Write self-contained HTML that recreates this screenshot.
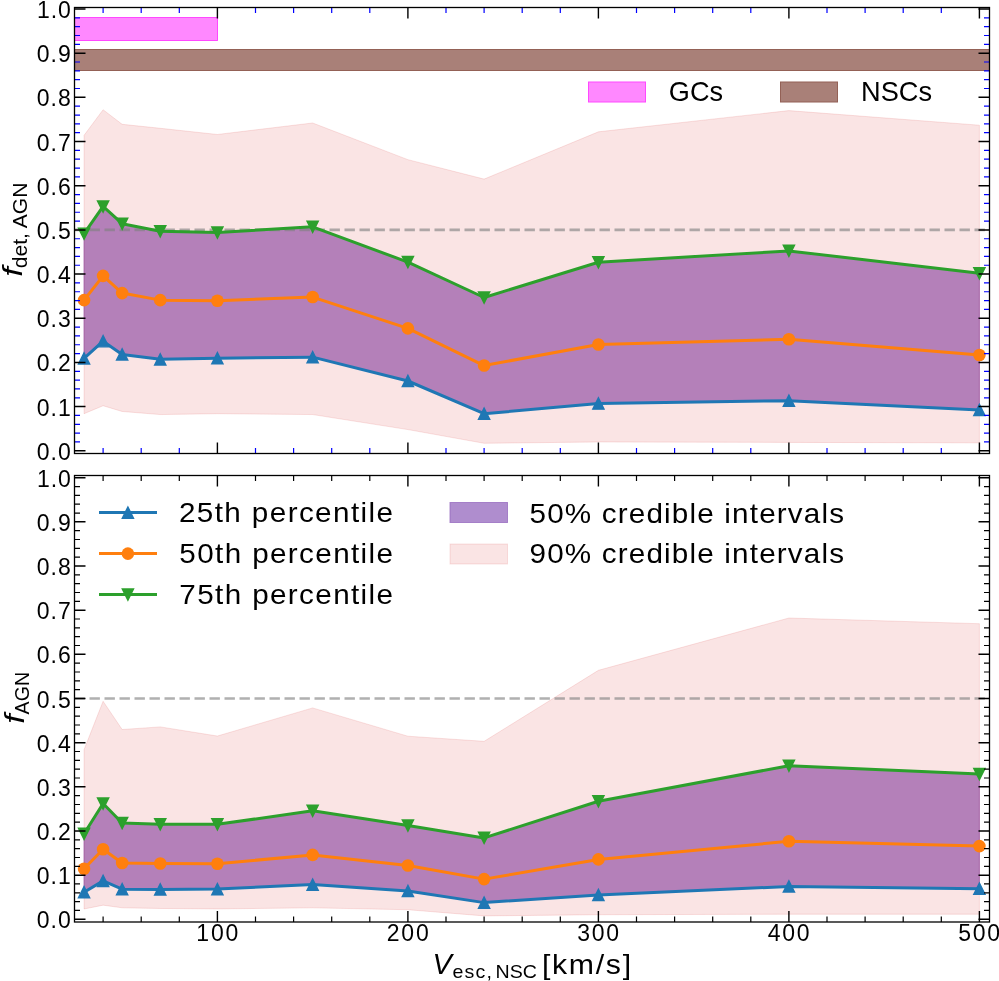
<!DOCTYPE html><html><head><meta charset="utf-8"><title>chart</title><style>html,body{margin:0;padding:0;background:#fff;width:999px;height:981px;overflow:hidden}svg{display:block;will-change:transform}</style></head><body><svg width="999" height="981" viewBox="0 0 999 981">
<rect width="999" height="981" fill="#fff"/>
<rect x="74.5" y="17" width="143.5" height="24" fill="#ff88ff"/>
<path d="M74.5 17.5H217.5V40.5H74.5" fill="none" stroke="#ff48ff" stroke-width="1"/>
<rect x="74.5" y="49" width="915" height="22" fill="#a98078"/>
<path d="M74.5 49.5H989.5M74.5 70.5H989.5" fill="none" stroke="#936156" stroke-width="1"/>
<clipPath id="c7"><rect x="74.5" y="7.5" width="915.0" height="446.0"/></clipPath>
<g clip-path="url(#c7)">
<polygon points="84.05,233.7 103.1,206.48 122.15,223.71 160.25,231.23 217.4,232.55 312.65,226.81 407.9,262.15 484.1,297.5 598.4,262.28 788.9,250.89 979.4,273.28 979.4,410.02 788.9,400.7 598.4,403.53 484.1,413.69 407.9,381 312.65,357.14 217.4,358.2 160.25,359.35 122.15,354.49 103.1,341.23 84.05,358.46" fill="#9467bd" fill-opacity="0.75" stroke="#9467bd" stroke-opacity="0.75" stroke-width="1.0" stroke-linejoin="round"/>
<polygon points="84.05,135.35 103.1,109.73 122.15,124.31 160.25,128.29 217.4,134.47 312.65,122.98 407.9,159.65 484.1,179.09 598.4,131.82 788.9,110.61 979.4,125.19 979.4,442.85 788.9,442.41 598.4,441.96 484.1,443.29 407.9,429.59 312.65,414.57 217.4,413.69 160.25,414.57 122.15,411.48 103.1,405.74 84.05,413.69" fill="#d62728" fill-opacity="0.125" stroke="#d62728" stroke-opacity="0.125" stroke-width="1.0" stroke-linejoin="round"/>
<line x1="74.5" y1="229.9" x2="989.5" y2="229.9" stroke="#808080" stroke-opacity="0.62" stroke-width="2.6" stroke-dasharray="10.4 4.6"/>
<polyline points="84.05,358.46 103.1,341.23 122.15,354.49 160.25,359.35 217.4,358.2 312.65,357.14 407.9,381 484.1,413.69 598.4,403.53 788.9,400.7 979.4,410.02" fill="none" stroke="#1f77b4" stroke-width="3.0" stroke-linejoin="round" stroke-linecap="butt"/>
<polygon points="84.05,352.86 78.45,364.06 89.65,364.06" fill="#1f77b4" stroke="#1f77b4" stroke-width="1.4" stroke-linejoin="miter" stroke-miterlimit="10"/>
<polygon points="103.1,335.63 97.5,346.83 108.7,346.83" fill="#1f77b4" stroke="#1f77b4" stroke-width="1.4" stroke-linejoin="miter" stroke-miterlimit="10"/>
<polygon points="122.15,348.89 116.55,360.09 127.75,360.09" fill="#1f77b4" stroke="#1f77b4" stroke-width="1.4" stroke-linejoin="miter" stroke-miterlimit="10"/>
<polygon points="160.25,353.75 154.65,364.95 165.85,364.95" fill="#1f77b4" stroke="#1f77b4" stroke-width="1.4" stroke-linejoin="miter" stroke-miterlimit="10"/>
<polygon points="217.4,352.6 211.8,363.8 223,363.8" fill="#1f77b4" stroke="#1f77b4" stroke-width="1.4" stroke-linejoin="miter" stroke-miterlimit="10"/>
<polygon points="312.65,351.54 307.05,362.74 318.25,362.74" fill="#1f77b4" stroke="#1f77b4" stroke-width="1.4" stroke-linejoin="miter" stroke-miterlimit="10"/>
<polygon points="407.9,375.4 402.3,386.6 413.5,386.6" fill="#1f77b4" stroke="#1f77b4" stroke-width="1.4" stroke-linejoin="miter" stroke-miterlimit="10"/>
<polygon points="484.1,408.09 478.5,419.29 489.7,419.29" fill="#1f77b4" stroke="#1f77b4" stroke-width="1.4" stroke-linejoin="miter" stroke-miterlimit="10"/>
<polygon points="598.4,397.93 592.8,409.13 604,409.13" fill="#1f77b4" stroke="#1f77b4" stroke-width="1.4" stroke-linejoin="miter" stroke-miterlimit="10"/>
<polygon points="788.9,395.1 783.3,406.3 794.5,406.3" fill="#1f77b4" stroke="#1f77b4" stroke-width="1.4" stroke-linejoin="miter" stroke-miterlimit="10"/>
<polygon points="979.4,404.42 973.8,415.62 985,415.62" fill="#1f77b4" stroke="#1f77b4" stroke-width="1.4" stroke-linejoin="miter" stroke-miterlimit="10"/>
<polyline points="84.05,300.15 103.1,275.85 122.15,293.08 160.25,300.15 217.4,300.81 312.65,297.05 407.9,328.42 484.1,365.53 598.4,344.5 788.9,339.2 979.4,355.02" fill="none" stroke="#ff7f0e" stroke-width="3.0" stroke-linejoin="round" stroke-linecap="butt"/>
<circle cx="84.05" cy="300.15" r="6.3" fill="#ff7f0e"/>
<circle cx="103.1" cy="275.85" r="6.3" fill="#ff7f0e"/>
<circle cx="122.15" cy="293.08" r="6.3" fill="#ff7f0e"/>
<circle cx="160.25" cy="300.15" r="6.3" fill="#ff7f0e"/>
<circle cx="217.4" cy="300.81" r="6.3" fill="#ff7f0e"/>
<circle cx="312.65" cy="297.05" r="6.3" fill="#ff7f0e"/>
<circle cx="407.9" cy="328.42" r="6.3" fill="#ff7f0e"/>
<circle cx="484.1" cy="365.53" r="6.3" fill="#ff7f0e"/>
<circle cx="598.4" cy="344.5" r="6.3" fill="#ff7f0e"/>
<circle cx="788.9" cy="339.2" r="6.3" fill="#ff7f0e"/>
<circle cx="979.4" cy="355.02" r="6.3" fill="#ff7f0e"/>
<polyline points="84.05,233.7 103.1,206.48 122.15,223.71 160.25,231.23 217.4,232.55 312.65,226.81 407.9,262.15 484.1,297.5 598.4,262.28 788.9,250.89 979.4,273.28" fill="none" stroke="#2ca02c" stroke-width="3.0" stroke-linejoin="round" stroke-linecap="butt"/>
<polygon points="84.05,239.3 78.45,228.1 89.65,228.1" fill="#2ca02c" stroke="#2ca02c" stroke-width="1.4" stroke-linejoin="miter" stroke-miterlimit="10"/>
<polygon points="103.1,212.08 97.5,200.88 108.7,200.88" fill="#2ca02c" stroke="#2ca02c" stroke-width="1.4" stroke-linejoin="miter" stroke-miterlimit="10"/>
<polygon points="122.15,229.31 116.55,218.11 127.75,218.11" fill="#2ca02c" stroke="#2ca02c" stroke-width="1.4" stroke-linejoin="miter" stroke-miterlimit="10"/>
<polygon points="160.25,236.83 154.65,225.63 165.85,225.63" fill="#2ca02c" stroke="#2ca02c" stroke-width="1.4" stroke-linejoin="miter" stroke-miterlimit="10"/>
<polygon points="217.4,238.15 211.8,226.95 223,226.95" fill="#2ca02c" stroke="#2ca02c" stroke-width="1.4" stroke-linejoin="miter" stroke-miterlimit="10"/>
<polygon points="312.65,232.41 307.05,221.21 318.25,221.21" fill="#2ca02c" stroke="#2ca02c" stroke-width="1.4" stroke-linejoin="miter" stroke-miterlimit="10"/>
<polygon points="407.9,267.75 402.3,256.55 413.5,256.55" fill="#2ca02c" stroke="#2ca02c" stroke-width="1.4" stroke-linejoin="miter" stroke-miterlimit="10"/>
<polygon points="484.1,303.1 478.5,291.9 489.7,291.9" fill="#2ca02c" stroke="#2ca02c" stroke-width="1.4" stroke-linejoin="miter" stroke-miterlimit="10"/>
<polygon points="598.4,267.88 592.8,256.68 604,256.68" fill="#2ca02c" stroke="#2ca02c" stroke-width="1.4" stroke-linejoin="miter" stroke-miterlimit="10"/>
<polygon points="788.9,256.49 783.3,245.29 794.5,245.29" fill="#2ca02c" stroke="#2ca02c" stroke-width="1.4" stroke-linejoin="miter" stroke-miterlimit="10"/>
<polygon points="979.4,278.88 973.8,267.68 985,267.68" fill="#2ca02c" stroke="#2ca02c" stroke-width="1.4" stroke-linejoin="miter" stroke-miterlimit="10"/>
</g>
<path d="M74.5 450.8h11M989.5 450.8h-11" stroke="#000" stroke-width="1.5"/>
<path d="M74.5 441.96h5.5M989.5 441.96h-5.5" stroke="#0000ff" stroke-width="1.2"/>
<path d="M74.5 433.13h5.5M989.5 433.13h-5.5" stroke="#0000ff" stroke-width="1.2"/>
<path d="M74.5 424.29h5.5M989.5 424.29h-5.5" stroke="#0000ff" stroke-width="1.2"/>
<path d="M74.5 415.46h5.5M989.5 415.46h-5.5" stroke="#0000ff" stroke-width="1.2"/>
<path d="M74.5 406.62h11M989.5 406.62h-11" stroke="#000" stroke-width="1.5"/>
<path d="M74.5 397.78h5.5M989.5 397.78h-5.5" stroke="#0000ff" stroke-width="1.2"/>
<path d="M74.5 388.95h5.5M989.5 388.95h-5.5" stroke="#0000ff" stroke-width="1.2"/>
<path d="M74.5 380.11h5.5M989.5 380.11h-5.5" stroke="#0000ff" stroke-width="1.2"/>
<path d="M74.5 371.28h5.5M989.5 371.28h-5.5" stroke="#0000ff" stroke-width="1.2"/>
<path d="M74.5 362.44h11M989.5 362.44h-11" stroke="#000" stroke-width="1.5"/>
<path d="M74.5 353.6h5.5M989.5 353.6h-5.5" stroke="#0000ff" stroke-width="1.2"/>
<path d="M74.5 344.77h5.5M989.5 344.77h-5.5" stroke="#0000ff" stroke-width="1.2"/>
<path d="M74.5 335.93h5.5M989.5 335.93h-5.5" stroke="#0000ff" stroke-width="1.2"/>
<path d="M74.5 327.1h5.5M989.5 327.1h-5.5" stroke="#0000ff" stroke-width="1.2"/>
<path d="M74.5 318.26h11M989.5 318.26h-11" stroke="#000" stroke-width="1.5"/>
<path d="M74.5 309.42h5.5M989.5 309.42h-5.5" stroke="#0000ff" stroke-width="1.2"/>
<path d="M74.5 300.59h5.5M989.5 300.59h-5.5" stroke="#0000ff" stroke-width="1.2"/>
<path d="M74.5 291.75h5.5M989.5 291.75h-5.5" stroke="#0000ff" stroke-width="1.2"/>
<path d="M74.5 282.92h5.5M989.5 282.92h-5.5" stroke="#0000ff" stroke-width="1.2"/>
<path d="M74.5 274.08h11M989.5 274.08h-11" stroke="#000" stroke-width="1.5"/>
<path d="M74.5 265.24h5.5M989.5 265.24h-5.5" stroke="#0000ff" stroke-width="1.2"/>
<path d="M74.5 256.41h5.5M989.5 256.41h-5.5" stroke="#0000ff" stroke-width="1.2"/>
<path d="M74.5 247.57h5.5M989.5 247.57h-5.5" stroke="#0000ff" stroke-width="1.2"/>
<path d="M74.5 238.74h5.5M989.5 238.74h-5.5" stroke="#0000ff" stroke-width="1.2"/>
<path d="M74.5 229.9h11M989.5 229.9h-11" stroke="#000" stroke-width="1.5"/>
<path d="M74.5 221.06h5.5M989.5 221.06h-5.5" stroke="#0000ff" stroke-width="1.2"/>
<path d="M74.5 212.23h5.5M989.5 212.23h-5.5" stroke="#0000ff" stroke-width="1.2"/>
<path d="M74.5 203.39h5.5M989.5 203.39h-5.5" stroke="#0000ff" stroke-width="1.2"/>
<path d="M74.5 194.56h5.5M989.5 194.56h-5.5" stroke="#0000ff" stroke-width="1.2"/>
<path d="M74.5 185.72h11M989.5 185.72h-11" stroke="#000" stroke-width="1.5"/>
<path d="M74.5 176.88h5.5M989.5 176.88h-5.5" stroke="#0000ff" stroke-width="1.2"/>
<path d="M74.5 168.05h5.5M989.5 168.05h-5.5" stroke="#0000ff" stroke-width="1.2"/>
<path d="M74.5 159.21h5.5M989.5 159.21h-5.5" stroke="#0000ff" stroke-width="1.2"/>
<path d="M74.5 150.38h5.5M989.5 150.38h-5.5" stroke="#0000ff" stroke-width="1.2"/>
<path d="M74.5 141.54h11M989.5 141.54h-11" stroke="#000" stroke-width="1.5"/>
<path d="M74.5 132.7h5.5M989.5 132.7h-5.5" stroke="#0000ff" stroke-width="1.2"/>
<path d="M74.5 123.87h5.5M989.5 123.87h-5.5" stroke="#0000ff" stroke-width="1.2"/>
<path d="M74.5 115.03h5.5M989.5 115.03h-5.5" stroke="#0000ff" stroke-width="1.2"/>
<path d="M74.5 106.2h5.5M989.5 106.2h-5.5" stroke="#0000ff" stroke-width="1.2"/>
<path d="M74.5 97.36h11M989.5 97.36h-11" stroke="#000" stroke-width="1.5"/>
<path d="M74.5 88.52h5.5M989.5 88.52h-5.5" stroke="#0000ff" stroke-width="1.2"/>
<path d="M74.5 79.69h5.5M989.5 79.69h-5.5" stroke="#0000ff" stroke-width="1.2"/>
<path d="M74.5 70.85h5.5M989.5 70.85h-5.5" stroke="#0000ff" stroke-width="1.2"/>
<path d="M74.5 62.02h5.5M989.5 62.02h-5.5" stroke="#0000ff" stroke-width="1.2"/>
<path d="M74.5 53.18h11M989.5 53.18h-11" stroke="#000" stroke-width="1.5"/>
<path d="M74.5 44.34h5.5M989.5 44.34h-5.5" stroke="#0000ff" stroke-width="1.2"/>
<path d="M74.5 35.51h5.5M989.5 35.51h-5.5" stroke="#0000ff" stroke-width="1.2"/>
<path d="M74.5 26.67h5.5M989.5 26.67h-5.5" stroke="#0000ff" stroke-width="1.2"/>
<path d="M74.5 17.84h5.5M989.5 17.84h-5.5" stroke="#0000ff" stroke-width="1.2"/>
<path d="M74.5 9h11M989.5 9h-11" stroke="#000" stroke-width="1.5"/>
<path d="M103.1 7.5v5.5M103.1 453.5v-5.5" stroke="#0000ff" stroke-width="1.2"/>
<path d="M141.2 7.5v5.5M141.2 453.5v-5.5" stroke="#0000ff" stroke-width="1.2"/>
<path d="M179.3 7.5v5.5M179.3 453.5v-5.5" stroke="#0000ff" stroke-width="1.2"/>
<path d="M217.4 7.5v11M217.4 453.5v-11" stroke="#000" stroke-width="1.4"/>
<path d="M255.5 7.5v5.5M255.5 453.5v-5.5" stroke="#0000ff" stroke-width="1.2"/>
<path d="M293.6 7.5v5.5M293.6 453.5v-5.5" stroke="#0000ff" stroke-width="1.2"/>
<path d="M331.7 7.5v5.5M331.7 453.5v-5.5" stroke="#0000ff" stroke-width="1.2"/>
<path d="M369.8 7.5v5.5M369.8 453.5v-5.5" stroke="#0000ff" stroke-width="1.2"/>
<path d="M407.9 7.5v11M407.9 453.5v-11" stroke="#000" stroke-width="1.4"/>
<path d="M446 7.5v5.5M446 453.5v-5.5" stroke="#0000ff" stroke-width="1.2"/>
<path d="M484.1 7.5v5.5M484.1 453.5v-5.5" stroke="#0000ff" stroke-width="1.2"/>
<path d="M522.2 7.5v5.5M522.2 453.5v-5.5" stroke="#0000ff" stroke-width="1.2"/>
<path d="M560.3 7.5v5.5M560.3 453.5v-5.5" stroke="#0000ff" stroke-width="1.2"/>
<path d="M598.4 7.5v11M598.4 453.5v-11" stroke="#000" stroke-width="1.4"/>
<path d="M636.5 7.5v5.5M636.5 453.5v-5.5" stroke="#0000ff" stroke-width="1.2"/>
<path d="M674.6 7.5v5.5M674.6 453.5v-5.5" stroke="#0000ff" stroke-width="1.2"/>
<path d="M712.7 7.5v5.5M712.7 453.5v-5.5" stroke="#0000ff" stroke-width="1.2"/>
<path d="M750.8 7.5v5.5M750.8 453.5v-5.5" stroke="#0000ff" stroke-width="1.2"/>
<path d="M788.9 7.5v11M788.9 453.5v-11" stroke="#000" stroke-width="1.4"/>
<path d="M827 7.5v5.5M827 453.5v-5.5" stroke="#0000ff" stroke-width="1.2"/>
<path d="M865.1 7.5v5.5M865.1 453.5v-5.5" stroke="#0000ff" stroke-width="1.2"/>
<path d="M903.2 7.5v5.5M903.2 453.5v-5.5" stroke="#0000ff" stroke-width="1.2"/>
<path d="M941.3 7.5v5.5M941.3 453.5v-5.5" stroke="#0000ff" stroke-width="1.2"/>
<path d="M979.4 7.5v11M979.4 453.5v-11" stroke="#000" stroke-width="1.4"/>
<rect x="74.5" y="7.5" width="915.0" height="446.0" fill="none" stroke="#000" stroke-width="1.3"/>
<text x="36.8" y="459.8" font-size="23.0" textLength="33.98" lengthAdjust="spacing" style="font-family:'Liberation Sans',sans-serif">0.0</text>
<text x="36.8" y="415.62" font-size="23.0" textLength="33.98" lengthAdjust="spacing" style="font-family:'Liberation Sans',sans-serif">0.1</text>
<text x="36.8" y="371.44" font-size="23.0" textLength="33.98" lengthAdjust="spacing" style="font-family:'Liberation Sans',sans-serif">0.2</text>
<text x="36.8" y="327.26" font-size="23.0" textLength="33.98" lengthAdjust="spacing" style="font-family:'Liberation Sans',sans-serif">0.3</text>
<text x="36.8" y="283.08" font-size="23.0" textLength="33.98" lengthAdjust="spacing" style="font-family:'Liberation Sans',sans-serif">0.4</text>
<text x="36.8" y="238.9" font-size="23.0" textLength="33.98" lengthAdjust="spacing" style="font-family:'Liberation Sans',sans-serif">0.5</text>
<text x="36.8" y="194.72" font-size="23.0" textLength="33.98" lengthAdjust="spacing" style="font-family:'Liberation Sans',sans-serif">0.6</text>
<text x="36.8" y="150.54" font-size="23.0" textLength="33.98" lengthAdjust="spacing" style="font-family:'Liberation Sans',sans-serif">0.7</text>
<text x="36.8" y="106.36" font-size="23.0" textLength="33.98" lengthAdjust="spacing" style="font-family:'Liberation Sans',sans-serif">0.8</text>
<text x="36.8" y="62.18" font-size="23.0" textLength="33.98" lengthAdjust="spacing" style="font-family:'Liberation Sans',sans-serif">0.9</text>
<text x="37.1" y="18" font-size="23.0" textLength="33.78" lengthAdjust="spacing" style="font-family:'Liberation Sans',sans-serif">1.0</text>
<clipPath id="c475"><rect x="74.5" y="475.5" width="915.0" height="446.5"/></clipPath>
<g clip-path="url(#c475)">
<polygon points="84.05,833.81 103.1,803.51 122.15,822.99 160.25,824.36 217.4,824.36 312.65,810.8 407.9,825.5 484.1,837.91 598.4,801.22 788.9,765.71 979.4,774.01 979.4,888.7 788.9,886.49 598.4,894.92 484.1,902.61 407.9,891.04 312.65,884.59 217.4,889.09 160.25,889.49 122.15,889.18 103.1,880.88 84.05,892.19" fill="#9467bd" fill-opacity="0.75" stroke="#9467bd" stroke-opacity="0.75" stroke-width="1.0" stroke-linejoin="round"/>
<polygon points="84.05,749.73 103.1,701.28 122.15,729.5 160.25,726.89 217.4,736.04 312.65,707.91 407.9,736.21 484.1,741.34 598.4,670.33 788.9,618 979.4,623.69 979.4,914.22 788.9,914.22 598.4,914.71 484.1,915.9 407.9,909.72 312.65,907.82 217.4,908.92 160.25,908.48 122.15,907.82 103.1,905.17 84.05,909.01" fill="#d62728" fill-opacity="0.125" stroke="#d62728" stroke-opacity="0.125" stroke-width="1.0" stroke-linejoin="round"/>
<line x1="74.5" y1="698.5" x2="989.5" y2="698.5" stroke="#808080" stroke-opacity="0.62" stroke-width="2.6" stroke-dasharray="10.4 4.6"/>
<polyline points="84.05,892.19 103.1,880.88 122.15,889.18 160.25,889.49 217.4,889.09 312.65,884.59 407.9,891.04 484.1,902.61 598.4,894.92 788.9,886.49 979.4,888.7" fill="none" stroke="#1f77b4" stroke-width="3.0" stroke-linejoin="round" stroke-linecap="butt"/>
<polygon points="84.05,886.59 78.45,897.79 89.65,897.79" fill="#1f77b4" stroke="#1f77b4" stroke-width="1.4" stroke-linejoin="miter" stroke-miterlimit="10"/>
<polygon points="103.1,875.28 97.5,886.48 108.7,886.48" fill="#1f77b4" stroke="#1f77b4" stroke-width="1.4" stroke-linejoin="miter" stroke-miterlimit="10"/>
<polygon points="122.15,883.58 116.55,894.78 127.75,894.78" fill="#1f77b4" stroke="#1f77b4" stroke-width="1.4" stroke-linejoin="miter" stroke-miterlimit="10"/>
<polygon points="160.25,883.89 154.65,895.09 165.85,895.09" fill="#1f77b4" stroke="#1f77b4" stroke-width="1.4" stroke-linejoin="miter" stroke-miterlimit="10"/>
<polygon points="217.4,883.49 211.8,894.69 223,894.69" fill="#1f77b4" stroke="#1f77b4" stroke-width="1.4" stroke-linejoin="miter" stroke-miterlimit="10"/>
<polygon points="312.65,878.99 307.05,890.19 318.25,890.19" fill="#1f77b4" stroke="#1f77b4" stroke-width="1.4" stroke-linejoin="miter" stroke-miterlimit="10"/>
<polygon points="407.9,885.44 402.3,896.64 413.5,896.64" fill="#1f77b4" stroke="#1f77b4" stroke-width="1.4" stroke-linejoin="miter" stroke-miterlimit="10"/>
<polygon points="484.1,897.01 478.5,908.21 489.7,908.21" fill="#1f77b4" stroke="#1f77b4" stroke-width="1.4" stroke-linejoin="miter" stroke-miterlimit="10"/>
<polygon points="598.4,889.32 592.8,900.52 604,900.52" fill="#1f77b4" stroke="#1f77b4" stroke-width="1.4" stroke-linejoin="miter" stroke-miterlimit="10"/>
<polygon points="788.9,880.89 783.3,892.09 794.5,892.09" fill="#1f77b4" stroke="#1f77b4" stroke-width="1.4" stroke-linejoin="miter" stroke-miterlimit="10"/>
<polygon points="979.4,883.1 973.8,894.3 985,894.3" fill="#1f77b4" stroke="#1f77b4" stroke-width="1.4" stroke-linejoin="miter" stroke-miterlimit="10"/>
<polyline points="84.05,868.69 103.1,849.22 122.15,863 160.25,863.48 217.4,863.79 312.65,854.91 407.9,865.51 484.1,879.11 598.4,859.42 788.9,841.31 979.4,846.08" fill="none" stroke="#ff7f0e" stroke-width="3.0" stroke-linejoin="round" stroke-linecap="butt"/>
<circle cx="84.05" cy="868.69" r="6.3" fill="#ff7f0e"/>
<circle cx="103.1" cy="849.22" r="6.3" fill="#ff7f0e"/>
<circle cx="122.15" cy="863" r="6.3" fill="#ff7f0e"/>
<circle cx="160.25" cy="863.48" r="6.3" fill="#ff7f0e"/>
<circle cx="217.4" cy="863.79" r="6.3" fill="#ff7f0e"/>
<circle cx="312.65" cy="854.91" r="6.3" fill="#ff7f0e"/>
<circle cx="407.9" cy="865.51" r="6.3" fill="#ff7f0e"/>
<circle cx="484.1" cy="879.11" r="6.3" fill="#ff7f0e"/>
<circle cx="598.4" cy="859.42" r="6.3" fill="#ff7f0e"/>
<circle cx="788.9" cy="841.31" r="6.3" fill="#ff7f0e"/>
<circle cx="979.4" cy="846.08" r="6.3" fill="#ff7f0e"/>
<polyline points="84.05,833.81 103.1,803.51 122.15,822.99 160.25,824.36 217.4,824.36 312.65,810.8 407.9,825.5 484.1,837.91 598.4,801.22 788.9,765.71 979.4,774.01" fill="none" stroke="#2ca02c" stroke-width="3.0" stroke-linejoin="round" stroke-linecap="butt"/>
<polygon points="84.05,839.41 78.45,828.21 89.65,828.21" fill="#2ca02c" stroke="#2ca02c" stroke-width="1.4" stroke-linejoin="miter" stroke-miterlimit="10"/>
<polygon points="103.1,809.11 97.5,797.91 108.7,797.91" fill="#2ca02c" stroke="#2ca02c" stroke-width="1.4" stroke-linejoin="miter" stroke-miterlimit="10"/>
<polygon points="122.15,828.59 116.55,817.39 127.75,817.39" fill="#2ca02c" stroke="#2ca02c" stroke-width="1.4" stroke-linejoin="miter" stroke-miterlimit="10"/>
<polygon points="160.25,829.96 154.65,818.76 165.85,818.76" fill="#2ca02c" stroke="#2ca02c" stroke-width="1.4" stroke-linejoin="miter" stroke-miterlimit="10"/>
<polygon points="217.4,829.96 211.8,818.76 223,818.76" fill="#2ca02c" stroke="#2ca02c" stroke-width="1.4" stroke-linejoin="miter" stroke-miterlimit="10"/>
<polygon points="312.65,816.4 307.05,805.2 318.25,805.2" fill="#2ca02c" stroke="#2ca02c" stroke-width="1.4" stroke-linejoin="miter" stroke-miterlimit="10"/>
<polygon points="407.9,831.1 402.3,819.9 413.5,819.9" fill="#2ca02c" stroke="#2ca02c" stroke-width="1.4" stroke-linejoin="miter" stroke-miterlimit="10"/>
<polygon points="484.1,843.51 478.5,832.31 489.7,832.31" fill="#2ca02c" stroke="#2ca02c" stroke-width="1.4" stroke-linejoin="miter" stroke-miterlimit="10"/>
<polygon points="598.4,806.82 592.8,795.62 604,795.62" fill="#2ca02c" stroke="#2ca02c" stroke-width="1.4" stroke-linejoin="miter" stroke-miterlimit="10"/>
<polygon points="788.9,771.31 783.3,760.11 794.5,760.11" fill="#2ca02c" stroke="#2ca02c" stroke-width="1.4" stroke-linejoin="miter" stroke-miterlimit="10"/>
<polygon points="979.4,779.61 973.8,768.41 985,768.41" fill="#2ca02c" stroke="#2ca02c" stroke-width="1.4" stroke-linejoin="miter" stroke-miterlimit="10"/>
</g>
<path d="M74.5 919.3h11M989.5 919.3h-11" stroke="#000" stroke-width="1.5"/>
<path d="M74.5 910.47h5.5M989.5 910.47h-5.5" stroke="#000000" stroke-width="1.2"/>
<path d="M74.5 901.64h5.5M989.5 901.64h-5.5" stroke="#000000" stroke-width="1.2"/>
<path d="M74.5 892.8h5.5M989.5 892.8h-5.5" stroke="#000000" stroke-width="1.2"/>
<path d="M74.5 883.97h5.5M989.5 883.97h-5.5" stroke="#000000" stroke-width="1.2"/>
<path d="M74.5 875.14h11M989.5 875.14h-11" stroke="#000" stroke-width="1.5"/>
<path d="M74.5 866.31h5.5M989.5 866.31h-5.5" stroke="#000000" stroke-width="1.2"/>
<path d="M74.5 857.48h5.5M989.5 857.48h-5.5" stroke="#000000" stroke-width="1.2"/>
<path d="M74.5 848.64h5.5M989.5 848.64h-5.5" stroke="#000000" stroke-width="1.2"/>
<path d="M74.5 839.81h5.5M989.5 839.81h-5.5" stroke="#000000" stroke-width="1.2"/>
<path d="M74.5 830.98h11M989.5 830.98h-11" stroke="#000" stroke-width="1.5"/>
<path d="M74.5 822.15h5.5M989.5 822.15h-5.5" stroke="#000000" stroke-width="1.2"/>
<path d="M74.5 813.32h5.5M989.5 813.32h-5.5" stroke="#000000" stroke-width="1.2"/>
<path d="M74.5 804.48h5.5M989.5 804.48h-5.5" stroke="#000000" stroke-width="1.2"/>
<path d="M74.5 795.65h5.5M989.5 795.65h-5.5" stroke="#000000" stroke-width="1.2"/>
<path d="M74.5 786.82h11M989.5 786.82h-11" stroke="#000" stroke-width="1.5"/>
<path d="M74.5 777.99h5.5M989.5 777.99h-5.5" stroke="#000000" stroke-width="1.2"/>
<path d="M74.5 769.16h5.5M989.5 769.16h-5.5" stroke="#000000" stroke-width="1.2"/>
<path d="M74.5 760.32h5.5M989.5 760.32h-5.5" stroke="#000000" stroke-width="1.2"/>
<path d="M74.5 751.49h5.5M989.5 751.49h-5.5" stroke="#000000" stroke-width="1.2"/>
<path d="M74.5 742.66h11M989.5 742.66h-11" stroke="#000" stroke-width="1.5"/>
<path d="M74.5 733.83h5.5M989.5 733.83h-5.5" stroke="#000000" stroke-width="1.2"/>
<path d="M74.5 725h5.5M989.5 725h-5.5" stroke="#000000" stroke-width="1.2"/>
<path d="M74.5 716.16h5.5M989.5 716.16h-5.5" stroke="#000000" stroke-width="1.2"/>
<path d="M74.5 707.33h5.5M989.5 707.33h-5.5" stroke="#000000" stroke-width="1.2"/>
<path d="M74.5 698.5h11M989.5 698.5h-11" stroke="#000" stroke-width="1.5"/>
<path d="M74.5 689.67h5.5M989.5 689.67h-5.5" stroke="#000000" stroke-width="1.2"/>
<path d="M74.5 680.84h5.5M989.5 680.84h-5.5" stroke="#000000" stroke-width="1.2"/>
<path d="M74.5 672h5.5M989.5 672h-5.5" stroke="#000000" stroke-width="1.2"/>
<path d="M74.5 663.17h5.5M989.5 663.17h-5.5" stroke="#000000" stroke-width="1.2"/>
<path d="M74.5 654.34h11M989.5 654.34h-11" stroke="#000" stroke-width="1.5"/>
<path d="M74.5 645.51h5.5M989.5 645.51h-5.5" stroke="#000000" stroke-width="1.2"/>
<path d="M74.5 636.68h5.5M989.5 636.68h-5.5" stroke="#000000" stroke-width="1.2"/>
<path d="M74.5 627.84h5.5M989.5 627.84h-5.5" stroke="#000000" stroke-width="1.2"/>
<path d="M74.5 619.01h5.5M989.5 619.01h-5.5" stroke="#000000" stroke-width="1.2"/>
<path d="M74.5 610.18h11M989.5 610.18h-11" stroke="#000" stroke-width="1.5"/>
<path d="M74.5 601.35h5.5M989.5 601.35h-5.5" stroke="#000000" stroke-width="1.2"/>
<path d="M74.5 592.52h5.5M989.5 592.52h-5.5" stroke="#000000" stroke-width="1.2"/>
<path d="M74.5 583.68h5.5M989.5 583.68h-5.5" stroke="#000000" stroke-width="1.2"/>
<path d="M74.5 574.85h5.5M989.5 574.85h-5.5" stroke="#000000" stroke-width="1.2"/>
<path d="M74.5 566.02h11M989.5 566.02h-11" stroke="#000" stroke-width="1.5"/>
<path d="M74.5 557.19h5.5M989.5 557.19h-5.5" stroke="#000000" stroke-width="1.2"/>
<path d="M74.5 548.36h5.5M989.5 548.36h-5.5" stroke="#000000" stroke-width="1.2"/>
<path d="M74.5 539.52h5.5M989.5 539.52h-5.5" stroke="#000000" stroke-width="1.2"/>
<path d="M74.5 530.69h5.5M989.5 530.69h-5.5" stroke="#000000" stroke-width="1.2"/>
<path d="M74.5 521.86h11M989.5 521.86h-11" stroke="#000" stroke-width="1.5"/>
<path d="M74.5 513.03h5.5M989.5 513.03h-5.5" stroke="#000000" stroke-width="1.2"/>
<path d="M74.5 504.2h5.5M989.5 504.2h-5.5" stroke="#000000" stroke-width="1.2"/>
<path d="M74.5 495.36h5.5M989.5 495.36h-5.5" stroke="#000000" stroke-width="1.2"/>
<path d="M74.5 486.53h5.5M989.5 486.53h-5.5" stroke="#000000" stroke-width="1.2"/>
<path d="M74.5 477.7h11M989.5 477.7h-11" stroke="#000" stroke-width="1.5"/>
<path d="M103.1 475.5v5.5M103.1 922.0v-5.5" stroke="#000000" stroke-width="1.2"/>
<path d="M141.2 475.5v5.5M141.2 922.0v-5.5" stroke="#000000" stroke-width="1.2"/>
<path d="M179.3 475.5v5.5M179.3 922.0v-5.5" stroke="#000000" stroke-width="1.2"/>
<path d="M217.4 475.5v11M217.4 922.0v-11" stroke="#000" stroke-width="1.4"/>
<path d="M255.5 475.5v5.5M255.5 922.0v-5.5" stroke="#000000" stroke-width="1.2"/>
<path d="M293.6 475.5v5.5M293.6 922.0v-5.5" stroke="#000000" stroke-width="1.2"/>
<path d="M331.7 475.5v5.5M331.7 922.0v-5.5" stroke="#000000" stroke-width="1.2"/>
<path d="M369.8 475.5v5.5M369.8 922.0v-5.5" stroke="#000000" stroke-width="1.2"/>
<path d="M407.9 475.5v11M407.9 922.0v-11" stroke="#000" stroke-width="1.4"/>
<path d="M446 475.5v5.5M446 922.0v-5.5" stroke="#000000" stroke-width="1.2"/>
<path d="M484.1 475.5v5.5M484.1 922.0v-5.5" stroke="#000000" stroke-width="1.2"/>
<path d="M522.2 475.5v5.5M522.2 922.0v-5.5" stroke="#000000" stroke-width="1.2"/>
<path d="M560.3 475.5v5.5M560.3 922.0v-5.5" stroke="#000000" stroke-width="1.2"/>
<path d="M598.4 475.5v11M598.4 922.0v-11" stroke="#000" stroke-width="1.4"/>
<path d="M636.5 475.5v5.5M636.5 922.0v-5.5" stroke="#000000" stroke-width="1.2"/>
<path d="M674.6 475.5v5.5M674.6 922.0v-5.5" stroke="#000000" stroke-width="1.2"/>
<path d="M712.7 475.5v5.5M712.7 922.0v-5.5" stroke="#000000" stroke-width="1.2"/>
<path d="M750.8 475.5v5.5M750.8 922.0v-5.5" stroke="#000000" stroke-width="1.2"/>
<path d="M788.9 475.5v11M788.9 922.0v-11" stroke="#000" stroke-width="1.4"/>
<path d="M827 475.5v5.5M827 922.0v-5.5" stroke="#000000" stroke-width="1.2"/>
<path d="M865.1 475.5v5.5M865.1 922.0v-5.5" stroke="#000000" stroke-width="1.2"/>
<path d="M903.2 475.5v5.5M903.2 922.0v-5.5" stroke="#000000" stroke-width="1.2"/>
<path d="M941.3 475.5v5.5M941.3 922.0v-5.5" stroke="#000000" stroke-width="1.2"/>
<path d="M979.4 475.5v11M979.4 922.0v-11" stroke="#000" stroke-width="1.4"/>
<rect x="74.5" y="475.5" width="915.0" height="446.5" fill="none" stroke="#000" stroke-width="1.3"/>
<text x="36.8" y="928.3" font-size="23.0" textLength="33.98" lengthAdjust="spacing" style="font-family:'Liberation Sans',sans-serif">0.0</text>
<text x="36.8" y="884.14" font-size="23.0" textLength="33.98" lengthAdjust="spacing" style="font-family:'Liberation Sans',sans-serif">0.1</text>
<text x="36.8" y="839.98" font-size="23.0" textLength="33.98" lengthAdjust="spacing" style="font-family:'Liberation Sans',sans-serif">0.2</text>
<text x="36.8" y="795.82" font-size="23.0" textLength="33.98" lengthAdjust="spacing" style="font-family:'Liberation Sans',sans-serif">0.3</text>
<text x="36.8" y="751.66" font-size="23.0" textLength="33.98" lengthAdjust="spacing" style="font-family:'Liberation Sans',sans-serif">0.4</text>
<text x="36.8" y="707.5" font-size="23.0" textLength="33.98" lengthAdjust="spacing" style="font-family:'Liberation Sans',sans-serif">0.5</text>
<text x="36.8" y="663.34" font-size="23.0" textLength="33.98" lengthAdjust="spacing" style="font-family:'Liberation Sans',sans-serif">0.6</text>
<text x="36.8" y="619.18" font-size="23.0" textLength="33.98" lengthAdjust="spacing" style="font-family:'Liberation Sans',sans-serif">0.7</text>
<text x="36.8" y="575.02" font-size="23.0" textLength="33.98" lengthAdjust="spacing" style="font-family:'Liberation Sans',sans-serif">0.8</text>
<text x="36.8" y="530.86" font-size="23.0" textLength="33.98" lengthAdjust="spacing" style="font-family:'Liberation Sans',sans-serif">0.9</text>
<text x="37.1" y="486.7" font-size="23.0" textLength="33.78" lengthAdjust="spacing" style="font-family:'Liberation Sans',sans-serif">1.0</text>
<rect x="588.5" y="82" width="57" height="20" fill="#ff88ff" stroke="#ff48ff" stroke-width="1"/>
<text x="668.82" y="101" font-size="27.5" textLength="54.17" lengthAdjust="spacingAndGlyphs" style="font-family:'Liberation Sans',sans-serif">GCs</text>
<rect x="780.5" y="82" width="57" height="20" fill="#a98078" stroke="#936156" stroke-width="1"/>
<text x="861.12" y="101" font-size="27.5" textLength="70.98" lengthAdjust="spacingAndGlyphs" style="font-family:'Liberation Sans',sans-serif">NSCs</text>
<line x1="99" y1="512.6" x2="157" y2="512.6" stroke="#1f77b4" stroke-width="3"/>
<polygon points="127.9,507 122.3,518.2 133.5,518.2" fill="#1f77b4" stroke="#1f77b4" stroke-width="1.4" stroke-linejoin="miter" stroke-miterlimit="10"/>
<text transform="translate(178.96,522.2) scale(1.04,1)" font-size="28.5" textLength="205.81" lengthAdjust="spacing" style="font-family:'Liberation Sans',sans-serif">25th percentile</text>
<line x1="99" y1="553.6" x2="157" y2="553.6" stroke="#ff7f0e" stroke-width="3"/>
<circle cx="127.9" cy="553.6" r="6.3" fill="#ff7f0e"/>
<text transform="translate(179.36,563.4) scale(1.04,1)" font-size="28.5" textLength="205.43" lengthAdjust="spacing" style="font-family:'Liberation Sans',sans-serif">50th percentile</text>
<line x1="99" y1="594.6" x2="157" y2="594.6" stroke="#2ca02c" stroke-width="3"/>
<polygon points="127.9,600.2 122.3,589 133.5,589" fill="#2ca02c" stroke="#2ca02c" stroke-width="1.4" stroke-linejoin="miter" stroke-miterlimit="10"/>
<text transform="translate(179.36,604.4) scale(1.04,1)" font-size="28.5" textLength="205.43" lengthAdjust="spacing" style="font-family:'Liberation Sans',sans-serif">75th percentile</text>
<rect x="450" y="502.5" width="57.5" height="20" fill="#9467bd" fill-opacity="0.75" stroke="#9467bd" stroke-opacity="0.75" stroke-width="1"/>
<text transform="translate(529.56,522.6) scale(1.04,1)" font-size="28.5" textLength="302.39" lengthAdjust="spacing" style="font-family:'Liberation Sans',sans-serif">50% credible intervals</text>
<rect x="450" y="544" width="57.5" height="20" fill="#d62728" fill-opacity="0.125" stroke="#d62728" stroke-opacity="0.125" stroke-width="1"/>
<text transform="translate(529.56,563.4) scale(1.04,1)" font-size="28.5" textLength="302.39" lengthAdjust="spacing" style="font-family:'Liberation Sans',sans-serif">90% credible intervals</text>
<text x="196.2" y="941.2" font-size="23.0" textLength="42.18" lengthAdjust="spacing" style="font-family:'Liberation Sans',sans-serif">100</text>
<text x="386.7" y="941.2" font-size="23.0" textLength="41.98" lengthAdjust="spacing" style="font-family:'Liberation Sans',sans-serif">200</text>
<text x="577.2" y="941.2" font-size="23.0" textLength="41.97" lengthAdjust="spacing" style="font-family:'Liberation Sans',sans-serif">300</text>
<text x="767.7" y="941.2" font-size="23.0" textLength="41.97" lengthAdjust="spacing" style="font-family:'Liberation Sans',sans-serif">400</text>
<text x="958.2" y="941.2" font-size="23.0" textLength="41.97" lengthAdjust="spacing" style="font-family:'Liberation Sans',sans-serif">500</text>
<text x="432.61" y="973.7" font-size="30" font-style="italic" textLength="19.28" lengthAdjust="spacingAndGlyphs" style="font-family:'Liberation Sans',sans-serif">V</text>
<text transform="translate(452.44,977.8) scale(1.06,1)" font-size="18.5" textLength="37.37" lengthAdjust="spacing" style="font-family:'Liberation Sans',sans-serif">esc,</text>
<text transform="translate(495.48,977.8) scale(1.06,1)" font-size="18.5" textLength="39.1" lengthAdjust="spacing" style="font-family:'Liberation Sans',sans-serif">NSC</text>
<text transform="translate(541.9,973.6) scale(1.1,1)" font-size="27.5" textLength="81.07" lengthAdjust="spacing" style="font-family:'Liberation Sans',sans-serif">[km/s]</text>
<g transform="translate(21.7,276.0) rotate(-90)"><text x="-0.71" y="0" font-size="28.5" font-style="italic" textLength="9.59" lengthAdjust="spacingAndGlyphs" style="font-family:'Liberation Sans',sans-serif">f</text><text x="7.77" y="5.2" font-size="20.5" textLength="85.7" lengthAdjust="spacingAndGlyphs" style="font-family:'Liberation Sans',sans-serif">det, AGN</text></g>
<g transform="translate(24.2,723.0) rotate(-90)"><text x="-0.69" y="0" font-size="28.5" font-style="italic" textLength="9.42" lengthAdjust="spacingAndGlyphs" style="font-family:'Liberation Sans',sans-serif">f</text><text x="8.6" y="5" font-size="20.5" textLength="42.47" lengthAdjust="spacingAndGlyphs" style="font-family:'Liberation Sans',sans-serif">AGN</text></g></svg></body></html>
